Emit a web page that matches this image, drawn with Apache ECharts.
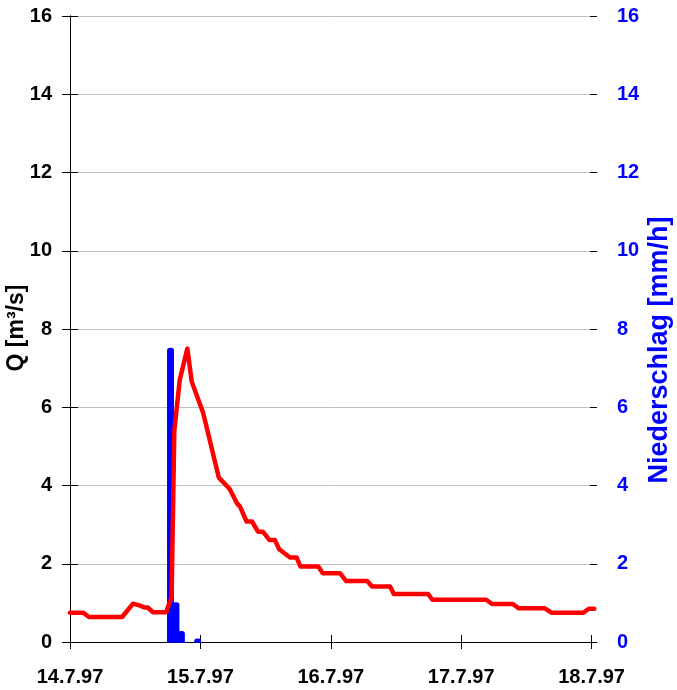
<!DOCTYPE html>
<html>
<head>
<meta charset="utf-8">
<script src="https://cdn.jsdelivr.net/npm/echarts@6/dist/echarts.min.js"></script>
<style>html,body{margin:0;padding:0;background:#fff}#c{width:677px;height:690px}</style>
</head>
<body>
<div id="c"></div>
<script>
// Discharge Q [m³/s]: time in hours since 14.7.97 00:00
var qHours = [0, 2.4, 3.5, 9.6, 11.6, 12.9, 13.8, 14.3, 15.3, 17.7, 18.7, 19.2, 20.2, 21.6, 22.4, 24.5, 27.4, 29.4, 30.7, 31.3, 32.5, 33.5, 34.6, 35.5, 36.7, 37.7, 38.5, 40.5, 41.7, 42.4, 45.7, 46.5, 49.7, 50.8, 54.7, 55.6, 58.9, 59.6, 65.9, 66.7, 76.6, 77.7, 81.5, 82.6, 87.4, 88.6, 94.5, 95.5, 96.5];
var qValues = [0.75, 0.75, 0.64, 0.64, 0.98, 0.93, 0.88, 0.88, 0.76, 0.76, 1.15, 5.4, 6.7, 7.5, 6.66, 5.86, 4.2, 3.91, 3.55, 3.46, 3.08, 3.08, 2.82, 2.82, 2.61, 2.61, 2.37, 2.16, 2.16, 1.93, 1.93, 1.76, 1.76, 1.56, 1.56, 1.42, 1.42, 1.23, 1.23, 1.08, 1.08, 0.97, 0.97, 0.86, 0.86, 0.75, 0.75, 0.85, 0.85];
// Precipitation [mm/h]: start hour of each hourly bar
var rainHours = [18, 19, 20, 23];
var rainValues = [7.5, 1.0, 0.26, 0.07];
// Axis ticks
var dayTickHours = [0, 24, 48, 72, 96];
var dayLabels = ['14.7.97', '15.7.97', '16.7.97', '17.7.97', '18.7.97'];

var qData = qHours.map(function (h, i) { return [h, qValues[i]]; });
var rainData = rainHours.map(function (h, i) { return [h, rainValues[i]]; });

var FONT = '"Liberation Sans", Arial, sans-serif';
var chart = echarts.init(document.getElementById('c'), null, {renderer: 'canvas'});

function yAx(pos, color, margin) {
  return {
    type: 'value', position: pos, min: 0, max: 16, interval: 2,
    axisLine: {show: true, lineStyle: {color: '#000', width: 1}},
    axisTick: {show: true, inside: false, length: 8, lineStyle: {color: '#000'}},
    axisLabel: {color: color, fontFamily: FONT, fontWeight: 'bold', fontSize: 20, margin: margin},
    splitLine: {show: pos === 'left', lineStyle: {color: '#c0c0c0', width: 1}}
  };
}
function yInner(pos) {
  return {
    type: 'value', position: pos, min: 0, max: 16, interval: 2,
    axisLine: {show: false},
    axisTick: {show: true, inside: true, length: 7, lineStyle: {color: '#000'}},
    axisLabel: {show: false}, splitLine: {show: false}
  };
}

chart.setOption({
  animation: false,
  backgroundColor: '#fff',
  grid: {left: 70, right: 80, top: 16, bottom: 48},
  xAxis: [{
    type: 'value', position: 'bottom', min: 0, max: 97,
    axisLine: {show: true, lineStyle: {color: '#000', width: 1}},
    axisTick: {show: true, length: 7, customValues: dayTickHours, lineStyle: {color: '#000'}},
    axisLabel: {
      customValues: dayTickHours, color: '#000', fontFamily: FONT, fontWeight: 'bold', fontSize: 20, margin: 25,
      formatter: function (v) { var i = dayTickHours.indexOf(v); return i >= 0 ? dayLabels[i] : ''; }
    },
    splitLine: {show: false}
  }, {
    type: 'value', position: 'bottom', min: 0, max: 97,
    axisLine: {show: false},
    axisTick: {show: true, inside: true, length: 7, customValues: dayTickHours, lineStyle: {color: '#000'}},
    axisLabel: {show: false}, splitLine: {show: false}
  }],
  yAxis: [yAx('left', '#000', 18), yAx('right', '#0000ff', 20), yInner('left'), yInner('right')],
  graphic: [{
    type: 'text', x: 17, y: 328, rotation: Math.PI / 2,
    style: {text: 'Q [m³/s]', font: 'bold 23px ' + FONT, fill: '#000', align: 'center', verticalAlign: 'middle'}
  }, {
    type: 'text', x: 660, y: 350, rotation: Math.PI / 2,
    style: {text: 'Niederschlag [mm/h]', font: 'bold 27px ' + FONT, fill: '#0000ff', align: 'center', verticalAlign: 'middle'}
  }],
  series: [{
    type: 'custom', xAxisIndex: 0, yAxisIndex: 1, data: rainData, clip: false,
    renderItem: function (params, api) {
      var h = api.value(0), v = api.value(1);
      var p1 = api.coord([h, v]), p2 = api.coord([h + 1, 0]);
      return {type: 'rect', shape: {x: p1[0], y: p1[1], width: p2[0] - p1[0], height: p2[1] - p1[1], r: [2, 2, 0, 0]},
        style: {fill: '#0000ff', stroke: '#0000ff', lineWidth: 1.5}};
    },
    z: 2
  }, {
    type: 'line', xAxisIndex: 0, yAxisIndex: 0, data: qData,
    showSymbol: false, symbol: 'none',
    lineStyle: {color: '#ff0000', width: 4.5, join: 'round', cap: 'round'},
    z: 3
  }]
});
</script>
</body>
</html>
